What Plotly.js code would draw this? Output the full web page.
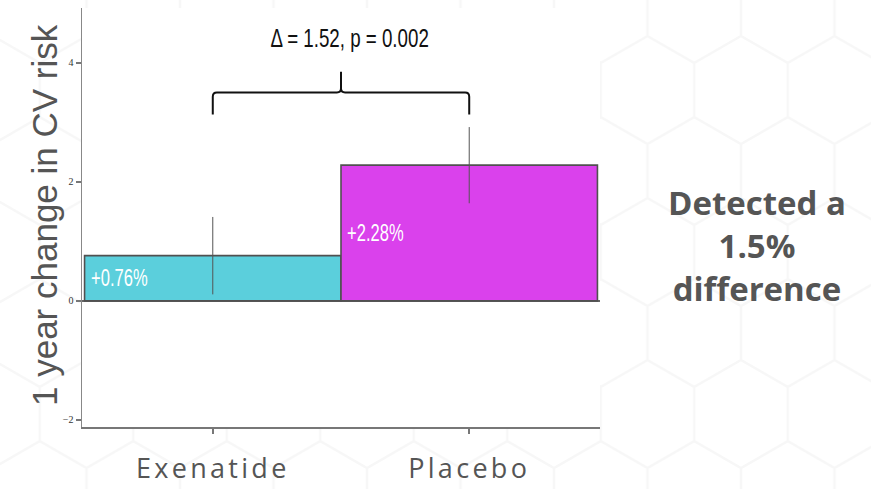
<!DOCTYPE html>
<html>
<head>
<meta charset="utf-8">
<script src="https://cdn.plot.ly/plotly-3.0.1.min.js"></script>
<style>
  html, body { margin: 0; padding: 0; background: #ffffff; }
  #wrap { position: relative; width: 871px; height: 489px; }
  #hexbg { position: absolute; left: 0; top: 0; }
  #chart { position: absolute; left: 0; top: 0; width: 871px; height: 489px; }
  .xtick text { letter-spacing: 3.3px; }
  /* narrow lettering for the value labels and the comparison note */
  .annotation[data-index="0"] text, .annotation[data-index="1"] text {
    transform-box: fill-box; transform-origin: left center; transform: scaleX(0.72);
  }
  .annotation[data-index="2"] text {
    transform-box: fill-box; transform-origin: center; transform: scaleX(0.75);
  }
</style>
</head>
<body>
<div id="wrap">
  <!-- faint honeycomb backdrop -->
  <svg id="hexbg" width="871" height="489" xmlns="http://www.w3.org/2000/svg">
    <defs>
      <pattern id="hex" patternUnits="userSpaceOnUse" width="93.5" height="162" x="39.75" y="9">
        <path d="M46.75,0 L46.75,27 L93.5,54 L93.5,108 L46.75,135 L0,108 L0,54 L46.75,27 M46.75,135 L46.75,162"
              fill="none" stroke="#f7f7f7" stroke-width="2.5"/>
      </pattern>
    </defs>
    <rect width="871" height="489" fill="url(#hex)"/>
  </svg>
  <div id="chart"></div>
</div>
<script>
// Treatment groups and their one-year change in CV risk (%)
const groups = ['Exenatide', 'Placebo'];
const change = [0.76, 2.28];
const ciHalf = [0.65, 0.64];
const barColors = ['#5bcfdc', '#da41ec'];
const barLabels = ['+0.76%', '+2.28%'];
const yTicks = [-2, 0, 2, 4];
const yTitle = '1 year change in CV risk';
const comparisonText = '\u0394 = 1.52, p = 0.002';
const sideNote = ['Detected a', '1.5%', 'difference'];

const idx = groups.map((_, i) => i);
const labelFont = '"Liberation Sans", Arial, sans-serif';

const bars = {
  type: 'bar',
  x: idx,
  y: change,
  width: 1,
  marker: { color: barColors, line: { color: '#505050', width: 1.6 } },
  error_y: { type: 'data', array: ciHalf, visible: true, color: '#555555', thickness: 1, width: 0 },
  hoverinfo: 'skip',
  showlegend: false
};

// value labels sit at the left edge of each bar, halfway up
const valueNotes = idx.map(i => ({
  x: i - 0.5, y: change[i] / 2, xref: 'x', yref: 'y',
  text: barLabels[i], showarrow: false, xanchor: 'left', yanchor: 'middle', xshift: 4,
  font: { family: labelFont, size: 23, color: '#ffffff' }
}));

// bracket joining the two groups, placed above the taller error bar
const highest = Math.max(...change.map((v, i) => v + ciHalf[i]));
const yEnd = highest + 0.21, yBar = highest + 0.58, yTip = highest + 0.93, yText = highest + 1.5;
const mid = (idx[0] + idx[1]) / 2;
const rx = 0.016, ry = 0.07;
const bracketPath =
  `M ${idx[0]},${yEnd} L ${idx[0]},${yBar - ry} Q ${idx[0]},${yBar} ${idx[0] + rx},${yBar} ` +
  `L ${mid - rx},${yBar} Q ${mid},${yBar} ${mid},${yBar + ry} L ${mid},${yTip} ` +
  `M ${mid},${yBar + ry} Q ${mid},${yBar} ${mid + rx},${yBar} ` +
  `L ${idx[1] - rx},${yBar} Q ${idx[1]},${yBar} ${idx[1]},${yBar - ry} L ${idx[1]},${yEnd}`;

const layout = {
  width: 871, height: 489,
  margin: { l: 82, r: 271, t: 8, b: 62 },
  paper_bgcolor: 'rgba(0,0,0,0)',
  plot_bgcolor: '#ffffff',
  xaxis: {
    type: 'linear',
    range: [-0.51, 1.51],
    tickvals: idx, ticktext: groups,
    ticks: 'outside', ticklen: 5, tickcolor: '#777777', tickwidth: 1.5,
    ticklabelstandoff: 12,
    showline: true, linecolor: '#777777', linewidth: 1.5,
    showgrid: false, zeroline: false,
    tickfont: { family: '"Open Sans", sans-serif', size: 27, color: '#555555' },
    fixedrange: true
  },
  yaxis: {
    range: [-2.118, 4.92],
    tickvals: yTicks,
    ticks: 'outside', ticklen: 5, tickcolor: '#777777', tickwidth: 1.5,
    showline: true, linecolor: '#888888', linewidth: 1.5,
    showgrid: false,
    zeroline: true, zerolinecolor: '#666666', zerolinewidth: 1.5,
    tickfont: { family: '"Liberation Serif", serif', size: 10, color: '#333333' },
    fixedrange: true
  },
  shapes: [{
    type: 'path', xref: 'x', yref: 'y', path: bracketPath,
    line: { color: '#111111', width: 2 }
  }],
  annotations: valueNotes.concat([
    {
      x: mid, y: yText, xref: 'x', yref: 'y', text: comparisonText, showarrow: false,
      xanchor: 'center', yanchor: 'middle', xshift: 8,
      font: { family: labelFont, size: 25, color: '#111111' }
    },
    {
      x: 1.303, y: 0.434, xref: 'paper', yref: 'paper', text: sideNote.join('<br>'), showarrow: false,
      xanchor: 'center', yanchor: 'middle', align: 'center',
      font: { family: '"Open Sans", sans-serif', size: 33, weight: 700, color: '#555555' }
    },
    {
      // y-axis title
      x: -0.0714, y: 0.506, xref: 'paper', yref: 'paper', text: yTitle, showarrow: false,
      textangle: -90, xanchor: 'center', yanchor: 'middle',
      font: { family: labelFont, size: 35, color: '#555555' }
    }
  ])
};

Plotly.newPlot('chart', [bars], layout, { displayModeBar: false, staticPlot: true });
</script>
</body>
</html>
